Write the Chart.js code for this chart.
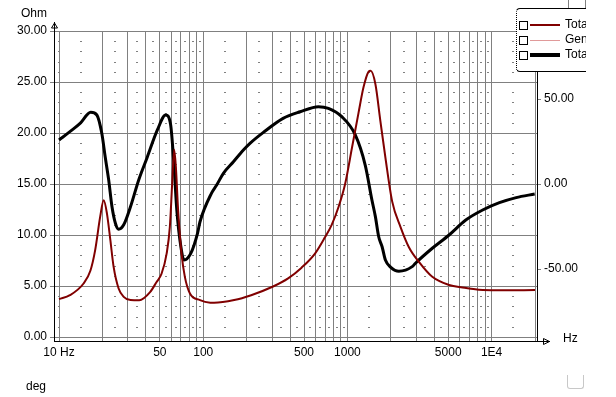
<!DOCTYPE html>
<html>
<head>
<meta charset="utf-8">
<script src="https://cdn.jsdelivr.net/npm/chart.js@4.4.1/dist/chart.umd.min.js"></script>
<style>
  html, body { margin: 0; padding: 0; background: #fff; }
  body { width: 616px; height: 397px; position: relative; overflow: hidden;
         font-family: "Liberation Sans", Arial, sans-serif; font-size: 12px; color: #000; }
  #chart { position: absolute; left: 0; top: 0; }
  .lbl { position: absolute; line-height: 12px; white-space: nowrap; }
  #legend { position: absolute; left: 516px; top: 8px; width: 70px; height: 64px; overflow: hidden; }
  #legend .box { position: absolute; left: 0; top: 0; width: 140px; height: 64px; box-sizing: border-box;
                 background: #fff; border-top: 1px solid #000; border-bottom: 1px solid #000;
                 border-left: 1px dotted #000; border-radius: 4px 0 0 4px; }
  .row { position: absolute; left: 2px; height: 12px; }
  .chk { position: absolute; left: 0; top: 2px; width: 7px; height: 7px; border: 1px solid #000; background: #fff; }
  .smp { position: absolute; left: 11px; width: 30px; }
  .txt { position: absolute; left: 46px; top: -1px; line-height: 12px; white-space: nowrap; }
  #corner { position: absolute; left: 567px; top: 375px; width: 15px; height: 13px;
            border: 1px solid #c8c8c8; border-top: none; border-radius: 0 0 3px 3px; }
  .tick { position: absolute; top: 0; width: 1px; height: 8px; background: #808080; }
</style>
</head>
<body>
<canvas id="chart" width="616" height="397"></canvas>
<div class="lbl" style="left:21px; top:7px;">Ohm</div>
<div class="lbl" style="left:563px; top:332px;">Hz</div>
<div class="lbl" style="left:26px; top:380px;">deg</div>
<div class="tick" style="left:568px;"></div>
<div class="tick" style="left:585px;"></div>
<div id="legend">
  <div class="box">
    <div class="row" style="top:10px;"><div class="chk"></div><div class="smp" style="top:5px; height:2px; background:#800000;"></div><div class="txt">Total impedance</div></div>
    <div class="row" style="top:25px;"><div class="chk"></div><div class="smp" style="top:6px; height:1px; background:#e09a9a;"></div><div class="txt">Generator</div></div>
    <div class="row" style="top:40px;"><div class="chk"></div><div class="smp" style="top:4px; height:4px; background:#000;"></div><div class="txt">Total phase</div></div>
  </div>
</div>
<div id="corner"></div>
<script>
// impedance magnitude (Ohm, left axis)
const impFreq = [10, 11.9, 14.8, 16.5, 17.8, 19.3, 20.4, 21.5, 22.7, 23.9, 25.9, 28.1, 31.3, 36, 42.8,
  47.5, 51.4, 55.8, 58.7, 60.9, 62.9, 64.6, 67, 70.7, 74.6, 80.9, 95, 112, 119, 164, 215, 305, 388,
  481, 596, 700, 778, 870, 964, 1074, 1195, 1294, 1400, 1450, 1563, 1692, 1834, 2043, 2333, 2670,
  3133, 3878, 5070, 6277, 7000, 8670, 12000, 20000];
const impOhm = [3.71, 4.1, 5.25, 6.5, 8.5, 11.8, 13.4, 12.1, 9.5, 6.9, 4.76, 3.94, 3.62, 3.6, 4.4,
  5.4, 6.2, 8.2, 10.8, 15, 18.35, 16.7, 12.4, 8.2, 5.9, 4.27, 3.62, 3.36, 3.35, 3.62, 4.1, 4.95, 5.75,
  6.8, 8.18, 9.8, 11.0, 12.8, 15.0, 18.5, 22.0, 24.5, 26.0, 26.1, 24.8, 21.2, 17.6, 13.3, 10.8, 8.8,
  7.36, 5.9, 5.1, 4.85, 4.76, 4.6, 4.58, 4.6];

// impedance phase (deg, right axis)
const phaseFreq = [10, 11.9, 14, 16.6, 18.3, 19.8, 20.9, 22.1, 23.3, 24.6, 25.9, 28.1, 31.3, 35.7,
  40.8, 48.1, 54.9, 59.4, 62.8, 65.6, 70, 73.6, 82, 91.3, 95, 114, 124, 138, 162, 190, 211, 260, 358,
  470, 630, 738, 914, 1132, 1330, 1479, 1563, 1648, 1740, 1834, 2000, 2275, 2813, 2964, 3878, 5070,
  6620, 8670, 11330, 14800, 19900];
const phaseDeg = [25.9, 30.8, 35.7, 42.2, 40.6, 29.8, 16, 2.4, -13.4, -23.1, -26.6, -24, -13.4, 2.4,
  15.5, 31.8, 40.6, 35, 10.2, -15.3, -36.9, -44.7, -40.8, -29, -22.2, -5.5, -0.6, 6.3, 13.1, 20, 23.9,
  30.2, 38.6, 42.5, 45.5, 44.5, 39.6, 29, 11, -9.4, -19.2, -31, -36.9, -44.7, -49, -51.3, -48.6, -46.6,
  -37.8, -30, -21.2, -15.3, -11, -8, -5.9];

// axes
const gridFreqs = [10, 20, 30, 40, 50, 60, 70, 80, 90, 100, 200, 300, 400, 500, 600, 700, 800, 900,
  1000, 2000, 3000, 4000, 5000, 6000, 7000, 8000, 9000, 10000, 20000];
const freqLabels = { 10: "10 Hz", 50: "50", 100: "100", 500: "500", 1000: "1000", 5000: "5000", 10000: "1E4" };
const ohmTicks = [0, 5, 10, 15, 20, 25, 30];
const degTicks = [-50, 0, 50];

const toPoints = (xs, ys) => xs.map((x, i) => ({ x, y: ys[i] }));

Chart.defaults.font.family = '"Liberation Sans", Arial, sans-serif';
Chart.defaults.font.size = 12;
Chart.defaults.color = "#000";

// dotted minor grid: small dashes at each Ohm between the frequency grid lines
const minorDashes = {
  id: "minorDashes",
  beforeDatasetsDraw(chart) {
    const { ctx, scales } = chart;
    const xs = gridFreqs.map((f) => scales.x.getPixelForValue(f));
    const cols = [xs[0]];
    for (let i = 0; i < xs.length - 1; i++) cols.push((xs[i] + xs[i + 1]) / 2);
    ctx.save();
    ctx.fillStyle = "#808080";
    for (let v = 1; v < 30; v++) {
      if (v % 5 === 0) continue;
      const py = Math.round(scales.y.getPixelForValue(v));
      for (const px of cols) ctx.fillRect(Math.round(px) - 1, py, 2, 1);
    }
    ctx.restore();
  },
};

// axis extensions with the open arrow heads
const axisArrows = {
  id: "axisArrows",
  afterDraw(chart) {
    const { ctx, chartArea: a } = chart;
    const lx = a.left + 0.5, by = a.bottom + 0.5;
    ctx.save();
    ctx.strokeStyle = "#000";
    ctx.lineWidth = 1;
    ctx.beginPath();
    ctx.moveTo(lx, a.top);
    ctx.lineTo(lx, a.top - 9);
    ctx.moveTo(a.right, by);
    ctx.lineTo(a.right + 13, by);
    ctx.stroke();
    ctx.beginPath();
    ctx.moveTo(lx - 3, a.top - 3);
    ctx.lineTo(lx, a.top - 8);
    ctx.lineTo(lx + 3, a.top - 3);
    ctx.closePath();
    ctx.stroke();
    ctx.beginPath();
    ctx.moveTo(a.right + 6.5, by - 3);
    ctx.lineTo(a.right + 12.5, by);
    ctx.lineTo(a.right + 6.5, by + 3);
    ctx.closePath();
    ctx.stroke();
    ctx.restore();
  },
};

new Chart(document.getElementById("chart"), {
  type: "line",
  data: {
    datasets: [
      {
        label: "Total impedance",
        data: toPoints(impFreq, impOhm),
        yAxisID: "y",
        borderColor: "#800000",
        borderWidth: 2,
        pointRadius: 0,
        cubicInterpolationMode: "monotone",
      },
      {
        label: "Total phase",
        data: toPoints(phaseFreq, phaseDeg),
        yAxisID: "y1",
        borderColor: "#000",
        borderWidth: 3,
        pointRadius: 0,
        cubicInterpolationMode: "monotone",
      },
    ],
  },
  options: {
    responsive: false,
    animation: false,
    layout: { padding: { top: 31, left: 0, right: 0, bottom: 0 } },
    plugins: { legend: { display: false }, tooltip: { enabled: false } },
    scales: {
      x: {
        type: "logarithmic",
        min: 9.23,
        max: 20643,
        afterBuildTicks: (s) => { s.ticks = gridFreqs.map((v) => ({ value: v })); },
        afterFit: (s) => { s.height = 56; },
        ticks: {
          autoSkip: false,
          maxRotation: 0,
          padding: 4,
          callback: (v) => freqLabels[v] || "",
        },
        grid: { color: "#808080", drawTicks: false },
        border: { color: "#000" },
      },
      y: {
        position: "left",
        min: -0.39,
        max: 30,
        afterBuildTicks: (s) => { s.ticks = ohmTicks.map((v) => ({ value: v })); },
        afterFit: (s) => { s.width = 54; },
        ticks: { padding: 3, callback: (v) => v.toFixed(2) },
        grid: { color: "#808080", tickLength: 4 },
        border: { color: "#000" },
      },
      y1: {
        position: "right",
        min: -92.35,
        max: 90,
        afterBuildTicks: (s) => { s.ticks = degTicks.map((v) => ({ value: v })); },
        afterFit: (s) => { s.width = 79; },
        ticks: { padding: 3, callback: (v) => v.toFixed(2) },
        grid: { drawOnChartArea: false, color: "#808080", tickLength: 4 },
        border: { color: "#000" },
      },
    },
  },
  plugins: [minorDashes, axisArrows],
});
</script>
</body>
</html>
